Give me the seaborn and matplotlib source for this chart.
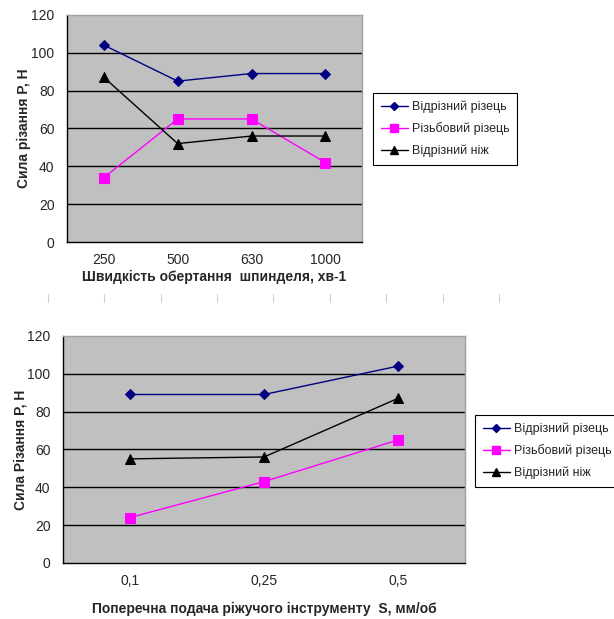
import matplotlib
matplotlib.use("Agg")
import matplotlib.pyplot as plt
import matplotlib.lines as mlines
import seaborn as sns
import pandas as pd

# Spindle speed experiment
speed_labels = ["250", "500", "630", "1000"]
cutoff_tool_speed = [104, 85, 89, 89]
thread_tool_speed = [34, 65, 65, 42]
cutoff_knife_speed = [87, 52, 56, 56]

# Cross feed experiment
feed_labels = ["0,1", "0,25", "0,5"]
cutoff_tool_feed = [89, 89, 104]
thread_tool_feed = [24, 43, 65]
cutoff_knife_feed = [55, 56, 87]

series_names = ["Відрізний різець", "Різьбовий різець", "Відрізний ніж"]
y_ticks = [0, 20, 40, 60, 80, 100, 120]

sns.set_theme(style="white")
plt.rcParams["font.family"] = ["Liberation Sans", "DejaVu Sans"]

palette = {series_names[0]: "#000080", series_names[1]: "#FF00FF", series_names[2]: "#000000"}
markers = {series_names[0]: "D", series_names[1]: "s", series_names[2]: "^"}
msizes = {series_names[0]: 5, series_names[1]: 7, series_names[2]: 7}


def make_frame(labels, values):
    rows = []
    for name, vals in zip(series_names, values):
        for i, (lab, v) in enumerate(zip(labels, vals)):
            rows.append({"pos": i, "label": lab, "series": name, "value": v})
    return pd.DataFrame(rows)


def draw_panel(ax, labels, values, xlabel, ylabel, xlabelpad):
    df = make_frame(labels, values)
    for name in series_names:
        sub = df[df["series"] == name]
        sns.lineplot(data=sub, x="pos", y="value", ax=ax, color=palette[name],
                     marker=markers[name], markersize=msizes[name],
                     markeredgecolor=palette[name], linewidth=1.0, legend=False)
    n = len(labels)
    ax.set_facecolor("#C0C0C0")
    ax.set_xlim(-0.5, n - 0.5)
    ax.set_ylim(0, 120)
    ax.set_yticks(y_ticks)
    ax.set_yticklabels([str(t) for t in y_ticks], fontsize=10)
    ax.set_xticks(range(n))
    ax.set_xticklabels(labels, fontsize=10)
    ax.tick_params(axis="x", length=0, pad=8)
    # category boundary ticks
    ax.set_xticks([i - 0.5 for i in range(n + 1)], minor=True)
    ax.tick_params(axis="x", which="minor", length=5, width=1, color="black", direction="out")
    ax.tick_params(axis="y", length=4, width=1, color="black", direction="out", pad=5)
    for y in y_ticks[1:-1]:
        ax.axhline(y, color="black", linewidth=1.0, zorder=1)
    ax.spines["left"].set_color("black")
    ax.spines["bottom"].set_color("black")
    ax.spines["top"].set_color("#A0A0A0")
    ax.spines["right"].set_color("#A0A0A0")
    for s in ax.spines.values():
        s.set_linewidth(1.0)
    ax.set_xlabel(xlabel, fontsize=10, fontweight="bold", labelpad=xlabelpad)
    ax.set_ylabel(ylabel, fontsize=10, fontweight="bold", labelpad=0)


fig = plt.figure(figsize=(6.14, 6.19), dpi=100)
ax1 = fig.add_axes([0.109, 0.609, 0.481, 0.367])
ax2 = fig.add_axes([0.1026, 0.0905, 0.655, 0.367])

draw_panel(ax1, speed_labels, [cutoff_tool_speed, thread_tool_speed, cutoff_knife_speed],
           "Швидкість обертання  шпинделя, хв-1", "Сила різання P, H", 2)
draw_panel(ax2, feed_labels, [cutoff_tool_feed, thread_tool_feed, cutoff_knife_feed],
           "Поперечна подача ріжучого інструменту  S, мм/об", "Сила Різання P, Н", 10)

handles = [mlines.Line2D([], [], color=palette[n], marker=markers[n], markersize=msizes[n] - 1,
                         markeredgecolor=palette[n], linewidth=1.0, label=n) for n in series_names]

leg_kw = dict(handles=handles, fontsize=9, frameon=True, fancybox=False, edgecolor="black",
              framealpha=1, borderpad=0.6, labelspacing=0.75, handlelength=2.2,
              handletextpad=0.3, borderaxespad=0)
leg1 = fig.legend(loc="upper left", bbox_to_anchor=(373 / 614, 1 - 93 / 619), **leg_kw)
leg1.get_frame().set_linewidth(0.8)
leg2 = fig.legend(loc="upper left", bbox_to_anchor=(475 / 614, 1 - 415 / 619), **leg_kw)
leg2.get_frame().set_linewidth(0.8)

# faint separator ticks between the two panels
for xp in [48, 104, 161, 217, 273, 330, 386, 443, 499]:
    fig.add_artist(mlines.Line2D([xp / 614, xp / 614], [1 - 294 / 619, 1 - 302 / 619],
                                 color="#D0D0D0", linewidth=0.8))

fig.savefig("out.png", dpi=100, facecolor="white")
